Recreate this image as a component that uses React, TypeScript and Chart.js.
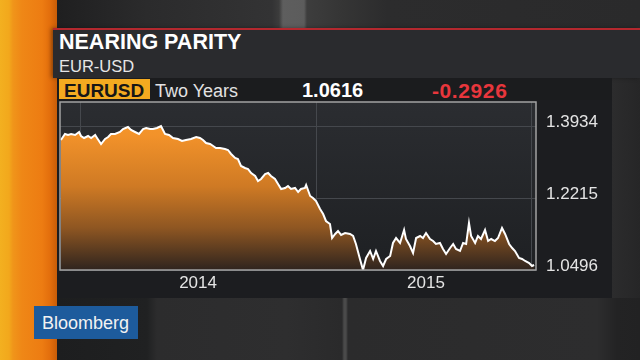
import React, { useEffect, useRef } from "react";
import { Chart, registerables } from "chart.js";

Chart.register(...registerables);

// Time axis in decimal years, values EUR/USD close
const dates = [
  2013.919, 2013.936, 2013.949, 2013.962, 2013.979, 2013.996, 2014.004, 2014.017, 2014.034, 2014.047,
  2014.064, 2014.072, 2014.089, 2014.106, 2014.119, 2014.131, 2014.148, 2014.169, 2014.182, 2014.203,
  2014.216, 2014.233, 2014.25, 2014.267, 2014.28, 2014.297, 2014.309, 2014.326, 2014.343, 2014.36,
  2014.377, 2014.394, 2014.415, 2014.432, 2014.449, 2014.47, 2014.492, 2014.508, 2014.521, 2014.534,
  2014.551, 2014.564, 2014.576, 2014.593, 2014.614, 2014.627, 2014.64, 2014.657, 2014.669, 2014.682,
  2014.699, 2014.712, 2014.725, 2014.742, 2014.754, 2014.767, 2014.784, 2014.797, 2014.809, 2014.826,
  2014.839, 2014.852, 2014.869, 2014.881, 2014.894, 2014.911, 2014.924, 2014.936, 2014.953, 2014.958,
  2014.975, 2014.987, 2015.0, 2015.017, 2015.03, 2015.042, 2015.059, 2015.068, 2015.081, 2015.093,
  2015.106, 2015.123, 2015.144, 2015.157, 2015.169, 2015.186, 2015.199, 2015.212, 2015.229, 2015.242,
  2015.254, 2015.271, 2015.284, 2015.297, 2015.314, 2015.326, 2015.339, 2015.356, 2015.373, 2015.381,
  2015.398, 2015.411, 2015.424, 2015.441, 2015.453, 2015.466, 2015.483, 2015.496, 2015.508, 2015.525,
  2015.538, 2015.551, 2015.568, 2015.581, 2015.593, 2015.61, 2015.623, 2015.636, 2015.648, 2015.657,
  2015.674, 2015.686, 2015.699, 2015.716, 2015.729, 2015.742, 2015.758, 2015.771, 2015.788, 2015.801,
  2015.818, 2015.831, 2015.843, 2015.86, 2015.873, 2015.886, 2015.903, 2015.915, 2015.924,
];

const eurusd = [
  1.3600, 1.3743, 1.3719, 1.3743, 1.3719, 1.3791, 1.3695, 1.3648, 1.3695, 1.3648,
  1.3719, 1.3648, 1.3504, 1.3624, 1.3671, 1.3743, 1.3743, 1.3791, 1.3862, 1.3910,
  1.3839, 1.3791, 1.3743, 1.3862, 1.3886, 1.3862, 1.3862, 1.3886, 1.3934, 1.3743,
  1.3719, 1.3648, 1.3624, 1.3576, 1.3600, 1.3624, 1.3671, 1.3648, 1.3600, 1.3528,
  1.3504, 1.3457, 1.3409, 1.3409, 1.3385, 1.3361, 1.3266, 1.3170, 1.3146, 1.2979,
  1.2931, 1.2907, 1.2812, 1.2740, 1.2621, 1.2669, 1.2788, 1.2812, 1.2740, 1.2669,
  1.2549, 1.2430, 1.2454, 1.2502, 1.2430, 1.2454, 1.2358, 1.2430, 1.2454, 1.2525,
  1.2263, 1.2215, 1.2143, 1.1952, 1.1833, 1.1666, 1.1594, 1.1260, 1.1356, 1.1427,
  1.1332, 1.1379, 1.1356, 1.1308, 1.1117, 1.0759, 1.0496, 1.0783, 1.0950, 1.0759,
  1.0950, 1.0711, 1.0592, 1.0759, 1.0830, 1.1141, 1.1260, 1.1141, 1.1451, 1.1236,
  1.1069, 1.0902, 1.1260, 1.1308, 1.1260, 1.1379, 1.1236, 1.1188, 1.1117, 1.1141,
  1.0997, 1.0878, 1.1021, 1.1117, 1.0997, 1.0950, 1.1141, 1.1117, 1.1618, 1.1308,
  1.1141, 1.1308, 1.1236, 1.1451, 1.1188, 1.1236, 1.1188, 1.1260, 1.1499, 1.1356,
  1.1117, 1.1021, 1.0950, 1.0783, 1.0759, 1.0711, 1.0663, 1.0592, 1.0616,
];

const yTickValues = [1.0496, 1.2215, 1.3934];
const yTickLabels = ["1.0496", "1.2215", "1.3934"];
const yearGridLines = [2014, 2015, 2015.911];
const yearLabelPositions = [2014.5, 2015.466];
const yearLabels = ["2014", "2015"];

const X_MIN = 2013.915;
const X_MAX = 2015.932;
const Y_MIN = 1.0496;
const Y_MAX = 1.4507;

const FONT = '"Liberation Sans", Arial, Helvetica, sans-serif';

export default function App() {
  const canvasRef = useRef<HTMLCanvasElement | null>(null);

  useEffect(() => {
    if (!canvasRef.current) return;

    const plotBg = {
      id: "plotBg",
      beforeDraw(chart: any) {
        const { ctx, chartArea: a } = chart;
        if (!a) return;
        const g = ctx.createLinearGradient(0, a.top, 0, a.bottom);
        g.addColorStop(0, "#2b2d31");
        g.addColorStop(1, "#1e2023");
        ctx.save();
        ctx.fillStyle = g;
        ctx.fillRect(a.left, a.top, a.right - a.left, a.bottom - a.top);
        ctx.restore();
      },
    };

    const frame = {
      id: "frame",
      afterDatasetsDraw(chart: any) {
        const { ctx, chartArea: a } = chart;
        ctx.save();
        ctx.strokeStyle = "#a2a2a2";
        ctx.lineWidth = 1.5;
        ctx.strokeRect(a.left, a.top, a.right - a.left, a.bottom - a.top);
        ctx.restore();
      },
    };

    const chart = new Chart(canvasRef.current, {
      type: "line",
      data: {
        datasets: [
          {
            data: dates.map((d, i) => ({ x: d, y: eurusd[i] })),
            borderColor: "#ffffff",
            borderWidth: 2,
            pointRadius: 0,
            tension: 0,
            fill: "start",
            backgroundColor: (ctx: any) => {
              const { chart } = ctx;
              const a = chart.chartArea;
              if (!a) return "rgba(240,140,30,0.8)";
              const g = chart.ctx.createLinearGradient(0, a.top, 0, a.bottom);
              g.addColorStop(0, "#f99b2b");
              g.addColorStop(0.2, "#f2922a");
              g.addColorStop(0.5, "#cf7a24");
              g.addColorStop(0.75, "#8e5622");
              g.addColorStop(1, "#2f241e");
              return g;
            },
          },
        ],
      },
      options: {
        animation: false,
        responsive: false,
        events: [],
        layout: { padding: { left: 60, top: 102, right: 0, bottom: 0 } },
        plugins: {
          legend: { display: false },
          tooltip: { enabled: false },
        },
        scales: {
          x: {
            type: "linear",
            position: "bottom",
            min: X_MIN,
            max: X_MAX,
            afterBuildTicks: (s: any) => {
              s.ticks = yearGridLines.map((v) => ({ value: v }));
            },
            ticks: { display: false },
            grid: { color: "#45484d", lineWidth: 1, drawTicks: false },
            border: { display: false },
            afterFit: (s: any) => {
              s.height = 0;
            },
          },
          xl: {
            type: "linear",
            position: "bottom",
            min: X_MIN,
            max: X_MAX,
            afterBuildTicks: (s: any) => {
              s.ticks = yearLabelPositions.map((v) => ({ value: v }));
            },
            ticks: {
              autoSkip: false,
              maxRotation: 0,
              padding: 3,
              color: "#e4e4e4",
              font: { family: FONT, size: 17 },
              callback: (_v: any, i: number) => yearLabels[i],
            },
            grid: { display: false, drawTicks: false },
            border: { display: false },
            afterFit: (s: any) => {
              s.height = 90;
            },
          },
          y: {
            type: "linear",
            position: "right",
            min: Y_MIN,
            max: Y_MAX,
            afterBuildTicks: (s: any) => {
              s.ticks = yTickValues.map((v) => ({ value: v }));
            },
            ticks: {
              autoSkip: false,
              padding: 10,
              labelOffset: -4,
              color: "#e4e4e4",
              font: { family: FONT, size: 17 },
              callback: (_v: any, i: number) => yTickLabels[i],
            },
            grid: { color: "#45484d", lineWidth: 1, drawTicks: false },
            border: { display: false },
            afterFit: (s: any) => {
              s.width = 104;
            },
          },
        },
      } as any,
      plugins: [plotBg, frame],
    });

    return () => chart.destroy();
  }, []);

  const abs = (style: React.CSSProperties): React.CSSProperties => ({
    position: "absolute",
    ...style,
  });

  return (
    <div
      style={{
        position: "fixed",
        left: 0,
        top: 0,
        width: 640,
        height: 360,
        overflow: "hidden",
        background: "#252628",
        fontFamily: FONT,
      }}
    >
      {/* top studio strip */}
      <div
        style={abs({
          left: 57,
          top: 0,
          width: 583,
          height: 28,
          background:
            "linear-gradient(90deg, #1f1f20 0px, #2b2b2c 90px, #333334 215px, #3c3c3c 222px, #5e5e5e 226px, #5c5c5c 247px, #3d3d3d 250px, #353535 285px, #2c2c2d 330px, #2a2a2b 583px)",
        })}
      />
      {/* bottom studio area */}
      <div
        style={abs({
          left: 57,
          top: 298,
          width: 583,
          height: 62,
          background:
            "linear-gradient(90deg, #1d1e1f 0px, #202122 90px, #2c2c2d 100px, #2e2e2f 230px, #2a2a2b 285px, #4a4a4a 287px, #4a4a4a 289px, #2b2b2c 291px, #2d2d2e 540px, #232324 560px, #222223 583px)",
        })}
      />
      {/* right side column */}
      <div
        style={abs({
          left: 612,
          top: 78,
          width: 28,
          height: 220,
          background: "linear-gradient(90deg, #2c2c2d, #262627)",
        })}
      />
      {/* orange stripe */}
      <div
        style={abs({
          left: 0,
          top: 0,
          width: 57,
          height: 360,
          background:
            "linear-gradient(90deg, #f3b020 0px, #f2a81c 9px, #f0951a 13px, #ef8716 22px, #ed7c12 42px, #e36e0c 50px, #c95d08 57px)",
        })}
      />
      {/* title panel */}
      <div
        style={abs({
          left: 53,
          top: 28,
          width: 587,
          height: 50,
          background: "#2a2b2e",
          borderTop: "2px solid #b4282e",
          boxSizing: "border-box",
          boxShadow: "-2px 0 4px rgba(0,0,0,0.35)",
        })}
      />
      {/* header row */}
      <div style={abs({ left: 57, top: 78, width: 555, height: 22, background: "#1b1c1e" })} />
      {/* chart panel */}
      <div style={abs({ left: 57, top: 100, width: 555, height: 198, background: "#1c1d20" })} />

      {/* texts */}
      <div
        style={abs({
          left: 59,
          top: 32,
          fontSize: 21.5,
          lineHeight: "21.5px",
          fontWeight: 700,
          color: "#ffffff",
          whiteSpace: "nowrap",
        })}
      >
        NEARING PARITY
      </div>
      <div
        style={abs({
          left: 59,
          top: 58,
          fontSize: 16.5,
          lineHeight: "16.5px",
          color: "#e6e6e6",
          whiteSpace: "nowrap",
        })}
      >
        EUR-USD
      </div>
      <div style={abs({ left: 59, top: 79, width: 91, height: 20, background: "#f4aa20" })} />
      <div
        style={abs({
          left: 64,
          top: 80.5,
          fontSize: 19,
          lineHeight: "19px",
          fontWeight: 700,
          color: "#171717",
          whiteSpace: "nowrap",
        })}
      >
        EURUSD
      </div>
      <div
        style={abs({
          left: 155,
          top: 82,
          fontSize: 18,
          lineHeight: "18px",
          color: "#e2e2e2",
          whiteSpace: "nowrap",
        })}
      >
        Two Years
      </div>
      <div
        style={abs({
          left: 302,
          top: 80,
          fontSize: 20,
          lineHeight: "20px",
          fontWeight: 700,
          color: "#ffffff",
          whiteSpace: "nowrap",
        })}
      >
        1.0616
      </div>
      <div
        style={abs({
          left: 432,
          top: 79.5,
          fontSize: 21,
          lineHeight: "21px",
          fontWeight: 700,
          letterSpacing: 0.6,
          color: "#e8363c",
          whiteSpace: "nowrap",
        })}
      >
        -0.2926
      </div>

      {/* Bloomberg logo */}
      <div style={abs({ left: 34, top: 306, width: 104, height: 33, background: "#1d5b9c" })} />
      <div
        style={abs({
          left: 42,
          top: 313.5,
          fontSize: 18,
          lineHeight: "18px",
          color: "#f2f2f2",
          whiteSpace: "nowrap",
        })}
      >
        Bloomberg
      </div>

      {/* chart */}
      <div style={abs({ left: 0, top: 0, width: 640, height: 360 })}>
        <canvas ref={canvasRef} width={640} height={360} style={{ width: 640, height: 360 }} />
      </div>
    </div>
  );
}
